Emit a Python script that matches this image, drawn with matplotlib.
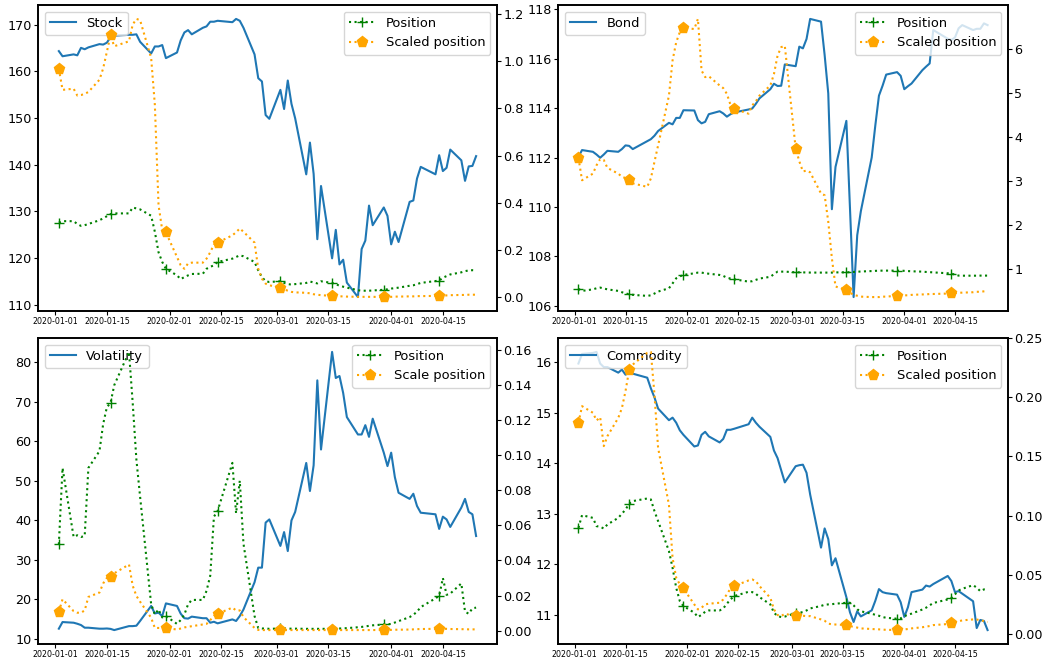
import pandas as pd
import matplotlib
matplotlib.use('Agg')
import matplotlib.pyplot as plt
import matplotlib.dates as mdates

# NYSE trading days, Jan 2 - Apr 24 2020
holidays = ['2020-01-20', '2020-02-17', '2020-04-10']
dates = pd.bdate_range('2020-01-02', '2020-04-24', freq='C', holidays=holidays)

stock = [
    164.3, 163.2, 163.6, 163.4, 165.0, 164.7, 165.1, 165.8, 165.7, 166.1, 167.3,
    167.6, 167.8, 167.8, 167.9, 166.3, 163.8, 165.3, 165.3, 165.6, 162.8,
    164.0, 166.6, 168.3, 168.8, 167.9, 169.3, 169.6, 170.6, 170.6, 170.8,
    170.5, 171.2, 170.8, 169.3, 163.6, 158.5, 157.8, 150.6, 149.8,
    156.0, 151.9, 158.0, 153.0, 149.9, 137.9, 144.7, 138.0, 124.0, 135.4, 119.9,
    126.0, 118.6, 119.6, 114.7, 111.6, 121.9, 123.7, 131.2, 127.0, 130.8, 129.0,
    122.9, 125.6, 123.4, 132.0, 132.3, 137.0, 139.5, 137.9, 142.0, 138.6,
    139.3, 143.2, 140.9, 136.5, 139.6, 139.7, 141.8]
stock_pos = [
    0.316, 0.322, 0.322, 0.310, 0.302, 0.305, 0.310, 0.326, 0.334, 0.343, 0.352,
    0.355, 0.355, 0.380, 0.376, 0.372, 0.345, 0.277, 0.190, 0.149, 0.120,
    0.092, 0.076, 0.085, 0.092, 0.098, 0.099, 0.120, 0.128, 0.135, 0.149,
    0.163, 0.170, 0.177, 0.173, 0.149, 0.113, 0.085, 0.067, 0.064,
    0.067, 0.060, 0.055, 0.053, 0.055, 0.060, 0.066, 0.062, 0.058, 0.067, 0.060,
    0.055, 0.048, 0.044, 0.040, 0.029, 0.027, 0.027, 0.027, 0.028, 0.031, 0.033,
    0.036, 0.038, 0.040, 0.048, 0.050, 0.055, 0.060, 0.068, 0.070, 0.082,
    0.089, 0.096, 0.105, 0.110, 0.113, 0.114, 0.113]
stock_scaled = [
    0.969, 0.879, 0.884, 0.855, 0.857, 0.862, 0.870, 0.922, 0.970, 1.040, 1.110,
    1.064, 1.085, 1.156, 1.180, 1.175, 1.014, 0.816, 0.390, 0.284, 0.274,
    0.170, 0.135, 0.120, 0.143, 0.146, 0.146, 0.163, 0.190, 0.223, 0.231,
    0.262, 0.275, 0.291, 0.277, 0.231, 0.120, 0.078, 0.057, 0.050,
    0.040, 0.033, 0.027, 0.022, 0.020, 0.018, 0.016, 0.012, 0.010, 0.008, 0.005,
    0.004, 0.003, 0.003, 0.002, 0.001, 0.001, 0.001, 0.001, 0.001, 0.000, 0.000,
    0.001, 0.002, 0.002, 0.003, 0.003, 0.004, 0.004, 0.005, 0.006, 0.006,
    0.007, 0.008, 0.009, 0.009, 0.010, 0.010, 0.010]

bond = [
    112.03, 112.30, 112.23, 112.12, 111.99, 112.12, 112.27, 112.23, 112.34, 112.49, 112.47,
    112.34, 112.66, 112.74, 112.88, 113.07, 113.40, 113.34, 113.60, 113.60, 113.91,
    113.90, 113.51, 113.38, 113.44, 113.75, 113.87, 113.78, 113.65, 113.75, 113.82,
    113.94, 113.98, 114.17, 114.39, 114.76, 114.98, 114.89, 114.90, 115.76,
    115.69, 116.48, 116.41, 116.79, 117.60, 117.49, 116.14, 114.59, 109.91, 111.62, 113.48,
    109.94, 106.36, 108.86, 109.83, 112.00, 113.30, 114.50, 114.90, 115.35, 115.45, 115.30,
    114.76, 114.88, 114.99, 115.53, 115.67, 115.80, 117.15, 116.80, 116.75, 116.85,
    117.22, 117.35, 117.15, 117.20, 117.20, 117.42, 117.35]
bond_pos = [
    0.555, 0.510, 0.545, 0.570, 0.585, 0.565, 0.545, 0.510, 0.480, 0.455, 0.434,
    0.420, 0.397, 0.410, 0.450, 0.495, 0.570, 0.680, 0.796, 0.840, 0.872,
    0.910, 0.925, 0.925, 0.910, 0.900, 0.872, 0.850, 0.810, 0.790, 0.774,
    0.720, 0.730, 0.760, 0.790, 0.830, 0.890, 0.947, 0.947, 0.947,
    0.932, 0.932, 0.930, 0.928, 0.926, 0.925, 0.925, 0.925, 0.925, 0.930, 0.932,
    0.935, 0.940, 0.945, 0.950, 0.960, 0.965, 0.968, 0.970, 0.970, 0.970, 0.970,
    0.965, 0.960, 0.955, 0.947, 0.940, 0.935, 0.930, 0.910, 0.902, 0.880,
    0.857, 0.855, 0.855, 0.855, 0.857, 0.857, 0.857]
bond_scaled = [
    3.53, 3.02, 3.17, 3.36, 3.50, 3.48, 3.30, 3.17, 3.10, 3.07, 3.02,
    2.95, 2.87, 3.06, 3.44, 3.81, 4.94, 5.74, 6.15, 6.38, 6.48,
    6.45, 6.68, 5.51, 5.36, 5.38, 5.17, 5.11, 4.98, 4.73, 4.64,
    4.53, 4.72, 4.81, 4.94, 5.17, 5.43, 5.85, 6.04, 6.07,
    3.74, 3.45, 3.22, 3.24, 3.20, 2.72, 2.68, 2.08, 1.25, 0.61, 0.53,
    0.47, 0.42, 0.40, 0.38, 0.37, 0.37, 0.37, 0.38, 0.38, 0.40, 0.40,
    0.41, 0.41, 0.42, 0.43, 0.43, 0.44, 0.44, 0.45, 0.46, 0.46,
    0.47, 0.47, 0.48, 0.49, 0.49, 0.50, 0.51]

vol = [
    12.55, 14.23, 14.06, 13.80, 13.47, 12.80, 12.80, 12.55, 12.55, 12.60, 12.50,
    12.20, 13.20, 13.20, 13.30, 14.50, 18.30, 16.40, 16.60, 15.75, 18.95,
    18.30, 16.35, 15.20, 15.10, 15.60, 15.20, 15.20, 14.06, 14.30, 13.90,
    14.90, 14.50, 15.75, 17.40, 24.30, 28.00, 28.00, 39.40, 40.20,
    33.50, 37.00, 32.20, 39.95, 42.10, 54.50, 47.40, 53.90, 75.40, 57.90, 82.60,
    76.00, 76.50, 72.20, 66.10, 61.70, 61.70, 64.06, 61.10, 65.70, 57.10, 53.70,
    57.10, 50.90, 46.95, 45.40, 46.70, 43.60, 41.90, 41.50, 37.80, 40.90,
    40.20, 38.30, 43.20, 45.40, 42.10, 41.50, 36.00]
vol_pos = [
    0.0492, 0.0928, 0.0534, 0.0544, 0.0534, 0.0540, 0.0928, 0.1024, 0.1178, 0.1274, 0.1299,
    0.1400, 0.1590, 0.1300, 0.0976, 0.0765, 0.0150, 0.0092, 0.0121, 0.0075, 0.0083,
    0.0038, 0.0060, 0.0092, 0.0150, 0.0175, 0.0175, 0.0227, 0.0313, 0.0650, 0.0682,
    0.0957, 0.0669, 0.0855, 0.0496, 0.0083, 0.0015, 0.0012, 0.0012, 0.0010,
    0.0012, 0.0012, 0.0011, 0.0011, 0.0011, 0.0010, 0.0010, 0.0010, 0.0010, 0.0010, 0.0010,
    0.0011, 0.0012, 0.0013, 0.0014, 0.0019, 0.0021, 0.0024, 0.0027, 0.0030, 0.0035, 0.0036,
    0.0038, 0.0046, 0.0054, 0.0077, 0.0090, 0.0108, 0.0134, 0.0184, 0.0198, 0.0300,
    0.0204, 0.0211, 0.0269, 0.0108, 0.0096, 0.0127, 0.0131]
vol_scaled = [
    0.0106, 0.0179, 0.0111, 0.0102, 0.0102, 0.0115, 0.0192, 0.0217, 0.0269, 0.0300, 0.0304,
    0.0327, 0.0377, 0.0256, 0.0198, 0.0165, 0.0073, 0.0015, 0.0015, 0.0015, 0.0015,
    0.0006, 0.0012, 0.0018, 0.0022, 0.0025, 0.0035, 0.0038, 0.0060, 0.0083, 0.0096,
    0.0131, 0.0115, 0.0115, 0.0077, 0.0015, 0.0004, 0.0003, 0.0003, 0.0003,
    0.0003, 0.0003, 0.0003, 0.0003, 0.0003, 0.0003, 0.0003, 0.0003, 0.0003, 0.0003, 0.0003,
    0.0003, 0.0003, 0.0003, 0.0003, 0.0003, 0.0003, 0.0003, 0.0003, 0.0003, 0.0004, 0.0004,
    0.0004, 0.0005, 0.0005, 0.0006, 0.0007, 0.0008, 0.0009, 0.0010, 0.0011, 0.0010,
    0.0010, 0.0009, 0.0008, 0.0008, 0.0007, 0.0007, 0.0007]

commodity = [
    15.97, 16.16, 16.18, 16.20, 15.97, 15.90, 15.90, 15.79, 15.85, 15.75, 15.79,
    15.77, 15.69, 15.48, 15.30, 15.08, 14.85, 14.90, 14.80, 14.65, 14.56,
    14.33, 14.35, 14.56, 14.62, 14.53, 14.41, 14.48, 14.66, 14.66, 14.68,
    14.77, 14.90, 14.80, 14.72, 14.52, 14.25, 14.10, 13.86, 13.62,
    13.94, 13.96, 13.97, 13.81, 13.38, 12.33, 12.71, 12.50, 11.98, 12.12, 11.35,
    11.05, 10.86, 11.07, 10.97, 11.09, 11.28, 11.51, 11.45, 11.43, 11.40, 11.25,
    10.96, 11.15, 11.45, 11.50, 11.58, 11.56, 11.61, 11.77, 11.67, 11.45,
    11.47, 11.42, 11.27, 10.74, 10.90, 10.88, 10.70]
commodity_pos = [
    0.0896, 0.1003, 0.0980, 0.0910, 0.0905, 0.0890, 0.0924, 0.0980, 0.1015, 0.1050, 0.1100,
    0.1122, 0.1144, 0.1136, 0.1037, 0.0953, 0.0699, 0.0558, 0.0389, 0.0276, 0.0234,
    0.0178, 0.0141, 0.0160, 0.0186, 0.0197, 0.0197, 0.0214, 0.0254, 0.0290, 0.0318,
    0.0355, 0.0352, 0.0338, 0.0310, 0.0248, 0.0178, 0.0149, 0.0141, 0.0145,
    0.0175, 0.0178, 0.0183, 0.0197, 0.0214, 0.0235, 0.0245, 0.0248, 0.0250, 0.0254, 0.0262,
    0.0262, 0.0240, 0.0206, 0.0190, 0.0169, 0.0160, 0.0152, 0.0141, 0.0135, 0.0127, 0.0130,
    0.0149, 0.0160, 0.0170, 0.0205, 0.0220, 0.0240, 0.0260, 0.0290, 0.0304, 0.0333,
    0.0366, 0.0380, 0.0411, 0.0390, 0.0360, 0.0375, 0.0375]
commodity_scaled = [
    0.1784, 0.1925, 0.1869, 0.1804, 0.1832, 0.1587, 0.1671, 0.1826, 0.1908, 0.2052, 0.2229,
    0.2277, 0.2376, 0.2384, 0.2024, 0.1573, 0.1090, 0.0640, 0.0474, 0.0417, 0.0383,
    0.0248, 0.0206, 0.0220, 0.0248, 0.0254, 0.0262, 0.0290, 0.0333, 0.0383, 0.0403,
    0.0451, 0.0459, 0.0445, 0.0403, 0.0304, 0.0206, 0.0158, 0.0149, 0.0169,
    0.0147, 0.0152, 0.0152, 0.0149, 0.0149, 0.0121, 0.0110, 0.0085, 0.0080, 0.0078, 0.0073,
    0.0065, 0.0058, 0.0052, 0.0045, 0.0040, 0.0038, 0.0037, 0.0035, 0.0033, 0.0031, 0.0033,
    0.0036, 0.0040, 0.0045, 0.0055, 0.0060, 0.0065, 0.0073, 0.0082, 0.0087, 0.0095,
    0.0105, 0.0113, 0.0121, 0.0120, 0.0115, 0.0107, 0.0099]

# name, price, position, scaled position, label of the scaled line, axes rect
panels = [
    ('Stock', stock, stock_pos, stock_scaled, 'Scaled position',
     [0.0361, 0.5281, 0.4363, 0.4643]),
    ('Bond', bond, bond_pos, bond_scaled, 'Scaled position',
     [0.5304, 0.5281, 0.4278, 0.4643]),
    ('Volatility', vol, vol_pos, vol_scaled, 'Scale position',
     [0.0361, 0.0228, 0.4363, 0.4643]),
    ('Commodity', commodity, commodity_pos, commodity_scaled, 'Scaled position',
     [0.5304, 0.0228, 0.4278, 0.4643]),
]

fig = plt.figure(figsize=(10.52, 6.59), dpi=100)

for name, price, pos, scaled, scaled_label, rect in panels:
    ax = fig.add_axes(rect)
    ax.plot(dates, price, color='C0', label=name)
    ax.legend(loc='upper left', fontsize=9.4)

    ax2 = ax.twinx()
    ax2.plot(dates, pos, ':', color='g', marker='+', markevery=10,
             markersize=6.5, label='Position')
    ax2.plot(dates, scaled, ':', color='orange', marker='p', markevery=10,
             markersize=8, label=scaled_label)
    ax2.legend(loc='upper right', fontsize=9.4)

    ax.xaxis.set_major_locator(mdates.DayLocator(bymonthday=[1, 15]))
    ax.xaxis.set_major_formatter(mdates.DateFormatter('%Y-%m-%d'))
    ax.tick_params(axis='x', labelsize=5.7, length=3, pad=1)
    ax.tick_params(axis='y', labelsize=9.2, length=3, pad=1.5)
    ax2.tick_params(axis='y', labelsize=9.2, length=3, pad=1.5)
    for a in (ax, ax2):
        for spine in a.spines.values():
            spine.set_linewidth(1.2)

fig.savefig('out.png', dpi=100)
